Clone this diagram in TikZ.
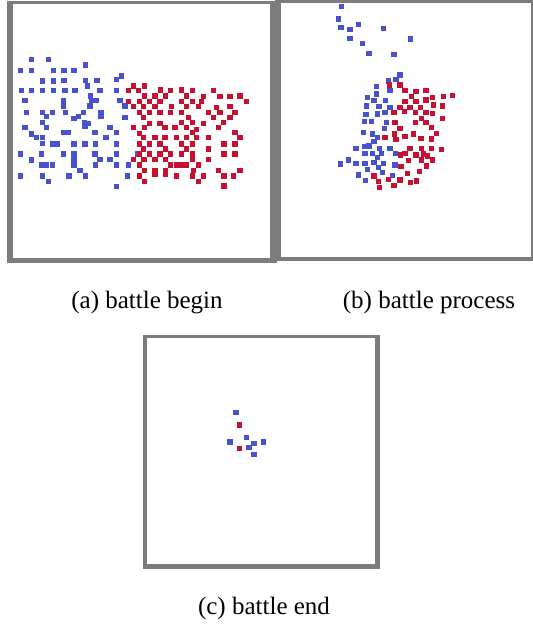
\documentclass[tikz,border=0pt]{standalone}
\usepackage{fontspec}
\setmainfont{Liberation Serif}
\definecolor{dotblue}{RGB}{72,82,204}
\definecolor{dotred}{RGB}{200,16,48}
\definecolor{framegray}{RGB}{124,124,124}
\tikzset{
  bdot/.style={fill=dotblue},
  rdot/.style={fill=dotred},
  caption/.style={font=\fontsize{25}{30}\selectfont, anchor=base, inner sep=0pt}
}
\begin{document}
\begin{tikzpicture}[x=1pt,y=-1pt]
\useasboundingbox (0,0) rectangle (533,627);
\fill[white] (0,0) rectangle (533,627);
% frames
\fill[framegray] (7,1) rectangle (277,263);
\fill[white] (13,4) rectangle (270,258);
\fill[framegray] (275,0) rectangle (533,261);
\fill[white] (281,3) rectangle (531,257);
\fill[framegray] (143,335) rectangle (380,569);
\fill[white] (147,338) rectangle (375,564);

% panel (a), coordinates in 1/3 px
\begin{scope}[x=0.33333pt,y=-0.33333pt]
\foreach \p in {(95,178),(145,178),(257,195),(62,211),(95,211),(160,211),(192,211),(222,211),(365,228),
(127,243),(160,243),(192,241),(257,241),(291,241),(350,238),(262,258),
(65,272),(95,272),(128,272),(160,272),(195,272),(225,272),(300,272),(350,272),(272,288),
(75,302),(190,302),(275,302),(290,302),(360,302),(190,318),(270,318),(375,318),(400,320),
(80,337),(128,337),(158,337),(197,337),(250,337),(303,337),(140,350),(222,355),(235,350),(303,350),(375,353),
(128,368),(253,368),(265,370),(75,382),(140,383),(255,380),(330,382),
(95,402),(190,398),(205,398),(285,398),(350,398),(110,413),(128,413),(318,412),
(128,430),(158,432),(172,432),(222,432),(255,432),(287,432),(350,432),
(62,462),(125,462),(190,462),(222,462),(285,462),(350,462),(412,462),
(95,480),(222,478),(300,478),(330,478),
(125,495),(140,495),(158,495),(222,495),(287,495),(350,495),(385,495),(240,512),
(62,528),(128,528),(207,528),(257,528),(383,528),(145,545),(350,560)}
  \fill[bdot] \p +(-2.6pt,-2.6pt) rectangle +(2.6pt,2.6pt);
\foreach \p in {(400,258),(433,258),
(385,272),(415,272),(482,270),(512,272),(545,270),(578,272),(640,272),
(433,288),(465,288),(497,288),(560,288),(610,290),(660,290),(690,290),(720,288),
(385,305),(418,305),(448,305),(480,305),(545,305),(578,305),(605,305),(740,305),
(400,320),(430,320),(465,320),(515,320),(560,320),(595,320),(650,322),(690,320),
(418,337),(448,337),(480,337),(512,337),(545,337),(625,337),(660,337),(705,337),
(430,353),(565,353),(640,353),(690,353),
(448,370),(480,370),(545,368),(578,368),(610,370),(670,368),
(400,383),(433,383),(495,383),(525,383),(560,383),(590,388),(655,383),
(418,400),(578,398),(705,398),
(430,413),(465,413),(495,413),(530,413),(560,413),(590,413),(625,413),(720,413),
(418,432),(448,432),(480,432),(545,432),(578,432),(672,432),(705,432),
(430,447),(497,447),(560,447),(625,447),
(418,462),(448,462),(480,462),(512,462),(545,462),(578,462),(672,462),(705,462),
(400,478),(432,478),(465,478),(497,478),(578,478),(625,478),
(418,495),(512,495),(530,495),(545,495),(560,495),(595,495),
(433,512),(465,512),(497,512),(580,512),(655,512),(720,512),
(418,528),(465,523),(497,523),(530,528),(578,528),(610,528),(672,528),(700,528),
(433,545),(595,545),(672,558)}
  \fill[rdot] \p +(-2.6pt,-2.6pt) rectangle +(2.6pt,2.6pt);
\end{scope}

% panel (b)
\begin{scope}[xshift=270pt,x=0.33333pt,y=-0.33333pt]
\foreach \p in {(215,20),(205,57),(213,83),(240,88),(265,73),(340,85),(422,117),(240,115),(277,130),(297,160),(372,163),
(390,225),(378,238),(355,243),(320,260),(360,272),(320,282),(292,292),(312,302),(347,302),(290,318),(327,320),(360,322),
(345,338),(322,342),(288,343),(305,365),(283,365),(350,368),(343,385),(280,398),(308,402),(322,412),(312,425),(297,438),
(258,445),(285,440),(328,445),(360,445),(285,460),(308,460),(335,460),(377,460),(322,472),(235,480),(212,492),(258,490),
(285,490),(312,488),(340,490),(375,495),(293,508),(325,502),(266,525),(338,518),(367,527),(287,542)}
  \fill[bdot] \p +(-2.6pt,-2.6pt) rectangle +(2.6pt,2.6pt);
\foreach \p in {(358,255),(390,255),(405,272),(438,275),(468,272),(425,290),(487,292),(520,290),(548,287),(405,305),(438,305),
(468,300),(390,322),(420,322),(452,322),(490,315),(518,318),(372,338),(403,335),(437,337),(468,338),(488,340),(455,355),
(518,355),(375,368),(437,368),(468,368),(390,385),(485,383),(373,402),(430,402),(500,400),(345,413),(378,418),(405,410),
(453,415),(485,417),(420,445),(455,445),(485,445),(515,448),(405,460),(438,465),(460,462),(472,468),(392,465),(455,480),
(488,480),(415,482),(470,498),(393,500),(448,515),(413,520),(312,528),(355,538),(390,540),(325,545),(422,547),(440,543),
(372,557),(328,562)}
  \fill[rdot] \p +(-2.6pt,-2.6pt) rectangle +(2.6pt,2.6pt);
\end{scope}

% panel (c)
\begin{scope}[xshift=140pt,yshift=-330pt,x=0.33333pt,y=-0.33333pt]
\foreach \p in {(288,248),(320,323),(270,336),(327,352),(342,340),(370,336),(342,373)}
  \fill[bdot] \p +(-2.6pt,-2.6pt) rectangle +(2.6pt,2.6pt);
\foreach \p in {(298,285),(298,356)}
  \fill[rdot] \p +(-2.6pt,-2.6pt) rectangle +(2.6pt,2.6pt);
\end{scope}

% captions
\node[caption] (capA) at (147,308) {(a) battle begin};
\node[caption] (capB) at (429,308) {(b) battle process};
\node[caption] (capC) at (264,614) {(c) battle end};
\end{tikzpicture}
\end{document}
